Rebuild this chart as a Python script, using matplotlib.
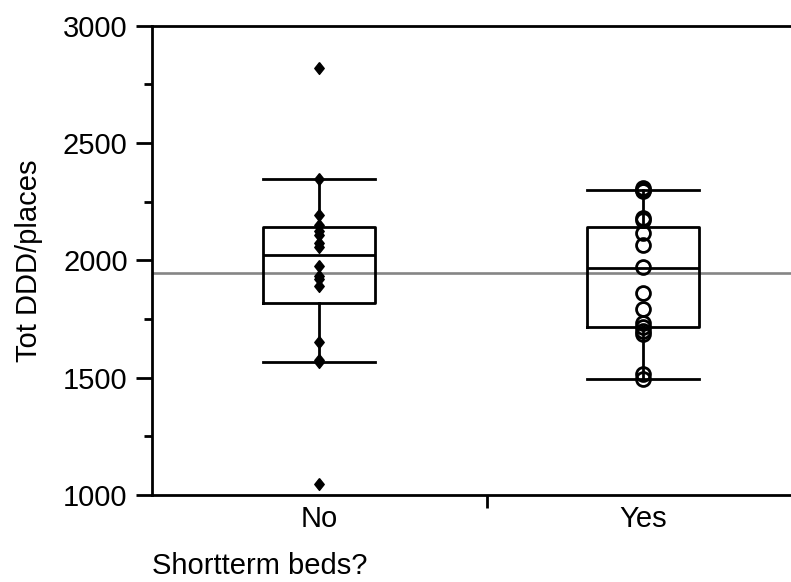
import matplotlib
matplotlib.use("Agg")
import matplotlib.pyplot as plt

# values
groups = ["No", "Yes"]
no_vals = [2820, 2347, 2195, 2150, 2125, 2110, 2075, 2055, 1978, 1935, 1920, 1890, 1652, 1575, 1565, 1047]
yes_vals = [2310, 2300, 2295, 2180, 2170, 2115, 2065, 1970, 1862, 1794, 1735, 1715, 1700, 1685, 1515, 1495]

# box statistics per group (No, Yes)
q1 = [1820, 1716]
med = [2022, 1968]
q3 = [2143, 2141]
whislo = [1565, 1494]
whishi = [2347, 2301]
grand_mean = 1945

plt.rcParams["font.family"] = ["Liberation Sans", "DejaVu Sans"]
plt.rcParams["font.size"] = 21

W, H = 791, 582
fig = plt.figure(figsize=(W / 100, H / 100), dpi=100)
ax = fig.add_axes([152 / W, (H - 495) / H, (W - 152) / W, (495 - 25.7) / H])

ax.axhline(grand_mean, color="#858585", lw=1.9, zorder=1)

lw = 2.0
stats = []
for i, g in enumerate(groups):
    stats.append({"label": g, "q1": q1[i], "med": med[i], "q3": q3[i],
                  "whislo": whislo[i], "whishi": whishi[i], "fliers": []})
ax.bxp(stats, positions=[1, 2], widths=0.345, showfliers=False,
       boxprops=dict(color="black", lw=lw),
       medianprops=dict(color="black", lw=lw),
       whiskerprops=dict(color="black", lw=lw),
       capprops=dict(color="black", lw=lw),
       capwidths=0.345, manage_ticks=False, zorder=2)

# slightly tall diamond like the original marker
diamond = [(0, 1), (0.8, 0), (0, -1), (-0.8, 0), (0, 1)]
ax.plot([1] * len(no_vals), no_vals, ls="none", marker=diamond, ms=8.5,
        mfc="black", mec="black", mew=1.0, zorder=3)
ax.plot([2] * len(yes_vals), yes_vals, ls="none", marker="o", ms=10,
        mfc="none", mec="black", mew=lw, zorder=3)

ax.set_xlim(0.485, 2.457)
ax.set_ylim(1000, 3000)
ax.set_yticks([1000, 1500, 2000, 2500, 3000])
ax.set_yticks([1250, 1750, 2250, 2750], minor=True)
ax.set_xticks([1, 2], groups)
ax.set_xticks([1.52], minor=True)
ax.tick_params(axis="y", which="major", length=11.5, width=lw, pad=6)
ax.tick_params(axis="y", which="minor", length=5.8, width=lw)
ax.tick_params(axis="x", which="major", length=0, pad=7)
ax.tick_params(axis="x", which="minor", length=9.5, width=lw)

for s in ["left", "bottom", "top"]:
    ax.spines[s].set_linewidth(lw)
ax.spines["right"].set_visible(False)

ax.set_ylabel("Tot DDD/places", labelpad=14)
ax.set_xlabel("Shortterm beds?", loc="left", labelpad=14)

fig.savefig("out.png", dpi=100)
